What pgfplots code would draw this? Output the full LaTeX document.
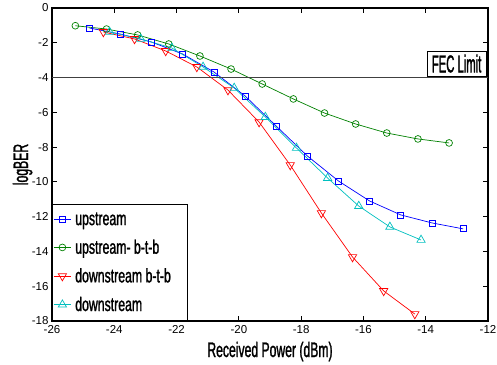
\documentclass[border=0pt]{standalone}
\usepackage{fontspec}
\setmainfont{Liberation Sans}
\newfontfamily\cond{Liberation Sans}[FakeStretch=0.63, FakeBold=1.2]
\newfontfamily\condl{Liberation Sans}[FakeStretch=0.58, FakeBold=1.2]
\newfontfamily\fecf{Liberation Sans}[FakeStretch=0.46, FakeBold=1.2]
\usepackage{pgfplots}
\pgfplotsset{compat=1.18}
\definecolor{mblue}{RGB}{0,0,255}
\definecolor{mgreen}{RGB}{0,128,0}
\definecolor{mred}{RGB}{255,0,0}
\definecolor{mcyan}{RGB}{0,191,191}
\begin{document}
\begin{tikzpicture}
\begin{axis}[
  at={(0,0)}, anchor=south west,
  width=436pt, height=313pt, scale only axis,
  xmin=-26, xmax=-12, ymin=-18, ymax=0,
  xtick={-26,-24,...,-12}, ytick={-18,-16,...,0},
  tick align=inside, major tick length=5pt,
  every tick/.style={black, line width=0.8pt},
  axis line style={black, line width=1.2pt},
  /pgf/number format/assume math mode=true,
  tick label style={font=\fontsize{11.5}{11.5}\selectfont, black},
  xticklabel style={yshift=-1pt},
  xlabel={Received Power (dBm)},
  ylabel={logBER},
  label style={font=\condl\fontsize{21}{21}\selectfont},
  xlabel style={at={(rel axis cs:0.5,0)}, anchor=base, yshift=-36pt},
  ylabel style={at={(axis description cs:-0.055,0.5)}, anchor=base},
  legend cell align=left,
  legend style={at={(0,0)}, anchor=south west, draw=black, line width=1pt,
    font=\cond\fontsize{19.5}{19.5}\selectfont, inner xsep=1pt, inner ysep=6pt,
    row sep=9pt, column sep=2pt},
  every axis plot/.append style={line width=0.7pt},
]
\addplot[mblue, mark=square, mark size=3pt, mark options={solid, line width=0.7pt}] coordinates {
(-24.8,-1.15)(-23.8,-1.5)(-22.8,-1.96)(-21.8,-2.65)(-20.8,-3.68)(-19.8,-5.06)(-18.8,-6.79)
(-17.8,-8.51)(-16.8,-9.95)(-15.8,-11.1)(-14.8,-11.9)(-13.8,-12.36)(-12.8,-12.7)};
\addlegendentry{\makebox[109pt][l]{upstream}}
\addplot[mgreen, mark=o, mark size=3.4pt, mark options={solid, line width=0.7pt}] coordinates {
(-25.25,-1.02)(-24.25,-1.21)(-23.25,-1.55)(-22.25,-2.07)(-21.25,-2.76)(-20.25,-3.51)(-19.25,-4.37)
(-18.25,-5.23)(-17.25,-6.04)(-16.25,-6.67)(-15.25,-7.19)(-14.25,-7.53)(-13.25,-7.76)};
\addlegendentry{upstream- b-t-b}
\addplot[mred, mark=triangle, mark size=4.8pt, mark options={solid, rotate=180, line width=0.7pt}] coordinates {
(-24.35,-1.38)(-23.35,-1.78)(-22.35,-2.47)(-21.35,-3.39)(-20.35,-4.72)(-19.35,-6.56)
(-18.35,-9.03)(-17.35,-11.79)(-16.35,-14.32)(-15.35,-16.27)(-14.35,-17.6)};
\addlegendentry{downstream b-t-b}
\addplot[mcyan, mark=triangle, mark size=4.8pt, mark options={solid, line width=0.7pt}] coordinates {
(-24.15,-1.38)(-23.15,-1.78)(-22.15,-2.3)(-21.15,-3.39)(-20.15,-4.6)(-19.15,-6.27)
(-18.15,-8.05)(-17.15,-9.78)(-16.15,-11.39)(-15.15,-12.59)(-14.15,-13.34)};
\addlegendentry{downstream}
\addplot[black!75, line width=1.1pt, forget plot] coordinates {(-26,-4) (-12,-4)};
\node[draw=black, fill=white, line width=0.6pt, anchor=south east, inner xsep=4.5pt, inner ysep=3pt,
  text height=18pt, text depth=1pt,
  font=\fecf\fontsize{24.5}{24.5}\selectfont] at (axis cs:-12.06,-3.95) {FEC Limit};
\end{axis}
\pgfresetboundingbox
\path[use as bounding box] (-52pt,-43pt) rectangle (445pt,321pt);
\end{tikzpicture}
\end{document}
